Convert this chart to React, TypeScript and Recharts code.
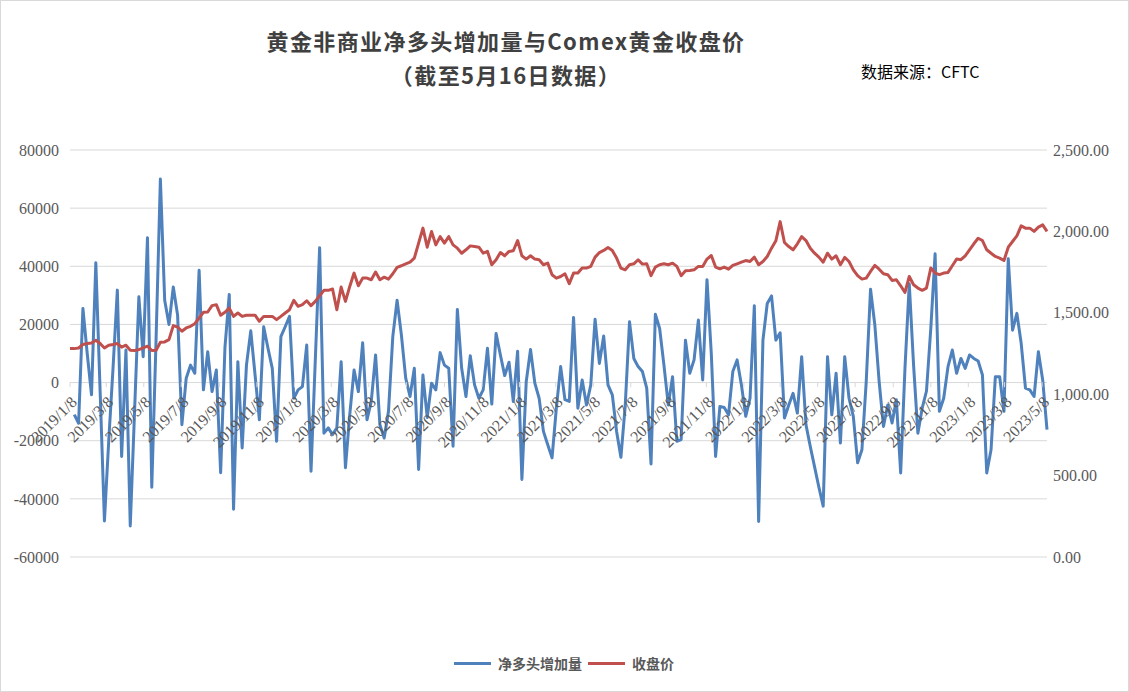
import React from 'react'
import { LineChart, Line, XAxis, YAxis, CartesianGrid } from 'recharts'

document.body.style.margin = '0'

// weekly CFTC report dates, first one 2019/1/8
const START = Date.UTC(2019, 0, 8)
const WEEK = 7 * 24 * 3600 * 1000

// 净多头增加量, from 2019/1/15 on (first week has no change)
const netLongChange = [
  -11000, -14000, 25500, 10000, -4200, 41200, -3000, -47600, -20000, 5000,
  31800, -25400, 11200, -49300, -10000, 29500, 8900, 49800, -36000, 15000,
  70000, 28300, 20000, 32900, 23200, -14500, 1500, 6000, 3200, 38600,
  -2500, 10600, -3100, 4300, -31000, 12000, 30300, -43600, 7200, -22500,
  6000, 17800, 2600, -12800, 19200, 11800, 4900, -20200, 15800, 19200,
  22800, -5400, -2500, -1400, 12900, -30500, 8000, 46400, -17400, -15600,
  -17900, -15600, 7200, -29300, -11000, 4300, -3100, 13700, -12800, -6500,
  9500, -14500, -19100, -9900, 15800, 28300, 16300, 1500, -4800, 4900,
  -29900, 2600, -12000, -200, -2500, 10300, 6000, 4900, -21900, 25100,
  4900, -4800, 9200, -800, -5400, -2500, 11800, -7400, 16900, 9500,
  2400, 7000, -6500, 10800, -33300, 300, 11400, -200, -5400, -16800,
  -21400, -25900, -8800, 5500, -5900, -6500, 22400, -8800, 900, -7700,
  -800, 21800, 6600, 16000, -800, -4200, -16800, -25700, -8000, 20900,
  8300, 5500, 3800, -1900, -28000, 23500, 18600, 6000, -7700, 2000,
  -20200, -19600, 14600, 3200, 7800, 21500, 900, 35400, 10000, -25400,
  -8200, -8600, -11100, 3800, 7800, -800, -11600, -5400, 26400, -47800,
  14600, 27200, 29800, 14600, 17100, -12200, -7700, -3700, -10500, 8900,
  -14500, -22000, -29000, -36000, -42500, 8900, -11100, 3200, -20800, 8900,
  -5400, -11600, -27600, -23100, 300, 32100, 19800, 300, -15100, -7700,
  -13900, -5900, -31100, 4900, 34000, 6000, -17400, -8800, -2900, 18600,
  44300, -9900, -5400, 5500, 11200, 3200, 8300, 4900, 9500, 8300,
  7400, 2600, -31100, -23100, 2000, 2000, -9900, 42600, 18000, 23800,
  13500, -1900, -2500, -4800, 10600, 900, -16200,
]

// Comex 黄金收盘价, from 2019/1/8 on
const closePrice = [
  1280, 1280, 1284, 1305, 1311, 1315, 1331, 1311, 1284, 1301,
  1305, 1311, 1289, 1301, 1270, 1268, 1274, 1284, 1295, 1268,
  1270, 1319, 1321, 1335, 1421, 1413, 1387, 1407, 1417, 1433,
  1468, 1503, 1505, 1544, 1550, 1485, 1503, 1529, 1478, 1499,
  1478, 1485, 1485, 1485, 1448, 1478, 1478, 1478, 1458, 1478,
  1499, 1519, 1576, 1540, 1550, 1574, 1544, 1570, 1605, 1638,
  1638, 1646, 1519, 1658, 1570, 1662, 1744, 1666, 1713, 1713,
  1703, 1750, 1703, 1719, 1707, 1740, 1779, 1789, 1801, 1811,
  1836, 1928, 2020, 1903, 1999, 1917, 1968, 1928, 1968, 1917,
  1897, 1866, 1887, 1911, 1907, 1903, 1866, 1877, 1795, 1826,
  1870, 1850, 1877, 1881, 1944, 1850, 1830, 1850, 1830, 1826,
  1795, 1805, 1734, 1713, 1723, 1740, 1679, 1744, 1744, 1775,
  1775, 1785, 1842, 1870, 1883, 1901, 1883, 1836, 1775, 1764,
  1795, 1801, 1826, 1799, 1801, 1728, 1781, 1795, 1801, 1795,
  1805, 1785, 1728, 1758, 1760, 1764, 1785, 1785, 1830, 1852,
  1781, 1770, 1781, 1768, 1791, 1801, 1811, 1821, 1815, 1842,
  1795, 1815, 1846, 1897, 1942, 2060, 1932, 1907, 1887, 1924,
  1968, 1944, 1897, 1866, 1842, 1811, 1866, 1830, 1850, 1795,
  1840, 1815, 1764, 1728, 1707, 1713, 1754, 1791, 1768, 1740,
  1734, 1699, 1703, 1666, 1625, 1723, 1672, 1652, 1638, 1652,
  1775, 1744, 1734, 1744, 1748, 1789, 1830, 1826, 1850, 1887,
  1924, 1958, 1944, 1887, 1866, 1846, 1836, 1821, 1903, 1938,
  1973, 2034, 2020, 2020, 2000, 2026, 2040, 2000,
]

const dateTicks = [
  '2019/1/8', '2019/3/8', '2019/5/8', '2019/7/8', '2019/9/8', '2019/11/8',
  '2020/1/8', '2020/3/8', '2020/5/8', '2020/7/8', '2020/9/8', '2020/11/8',
  '2021/1/8', '2021/3/8', '2021/5/8', '2021/7/8', '2021/9/8', '2021/11/8',
  '2022/1/8', '2022/3/8', '2022/5/8', '2022/7/8', '2022/9/8', '2022/11/8',
  '2023/1/8', '2023/3/8', '2023/5/8',
]
const leftTicks = [-60000, -40000, -20000, 0, 20000, 40000, 60000, 80000]
const rightTicks = [0, 500, 1000, 1500, 2000, 2500]

const toTime = (s: string) => {
  const [y, m, d] = s.split('/').map(Number)
  return Date.UTC(y, m - 1, d)
}

const data = closePrice.map((p, i) => ({
  t: START + i * WEEK,
  price: p,
  net: i === 0 ? null : netLongChange[i - 1],
}))

const W = 1129
const H = 692
const TOP = 150
const X_AXIS_H = 134
const PLOT_H = H - TOP - X_AXIS_H
const LEFT_MIN = -60000
const LEFT_MAX = 80000
// x axis crosses at 0 like the Excel original
const ZERO_SHIFT = (PLOT_H * (0 - LEFT_MIN)) / (LEFT_MAX - LEFT_MIN)

const AXIS_FONT = '"Liberation Serif", "Times New Roman", serif'
const CJK_FONT = '"Noto Sans CJK SC", "Noto Sans", sans-serif'
const BLUE = '#4F81BD'
const RED = '#C0504D'

const DateTick = (props: any) => {
  const { x, y, payload } = props
  const d = new Date(payload.value)
  const label = `${d.getUTCFullYear()}/${d.getUTCMonth() + 1}/${d.getUTCDate()}`
  const y0 = y - ZERO_SHIFT
  return (
    <g transform={`translate(${x},${y0})`}>
      <line x1={0} y1={0} x2={0} y2={5} stroke="#d9d9d9" />
      <text
        x={8}
        y={21}
        textAnchor="end"
        transform="rotate(-45, 8, 21)"
        fontFamily={AXIS_FONT}
        fontSize={16}
        fill="#595959"
      >
        {label}
      </text>
    </g>
  )
}

const titleLine = {
  position: 'absolute' as const,
  left: 0,
  width: 1010,
  textAlign: 'center' as const,
  fontFamily: CJK_FONT,
  fontWeight: 700,
  fontSize: 22,
  lineHeight: '24px',
  color: '#404040',
  letterSpacing: 1.4,
}

export default function App() {
  return (
    <div
      style={{
        position: 'relative',
        width: W,
        height: H,
        boxSizing: 'border-box',
        border: '1px solid #d9d9d9',
        background: '#fff',
        overflow: 'hidden',
      }}
    >
      <div style={{ ...titleLine, top: 27 }}>黄金非商业净多头增加量与Comex黄金收盘价</div>
      <div style={{ ...titleLine, top: 61 }}>（截至5月16日数据）</div>
      <div
        style={{
          position: 'absolute',
          left: 860,
          top: 60,
          fontFamily: CJK_FONT,
          fontSize: 16,
          lineHeight: '20px',
          color: '#000',
        }}
      >
        数据来源：CFTC
      </div>

      <div style={{ position: 'absolute', left: 0, top: 0 }}>
        <LineChart width={W - 2} height={H - 2} data={data} margin={{ top: TOP - 1, right: 0, left: 0, bottom: 0 }}>
          <CartesianGrid yAxisId="left" horizontal vertical={false} stroke="#d9d9d9" />
          <XAxis
            dataKey="t"
            type="number"
            domain={[START, START + (closePrice.length - 1) * WEEK]}
            ticks={dateTicks.map(toTime)}
            interval={0}
            tick={<DateTick />}
            tickLine={false}
            axisLine={false}
            tickSize={0}
            tickMargin={0}
            height={X_AXIS_H}
          />
          <YAxis
            yAxisId="left"
            domain={[LEFT_MIN, LEFT_MAX]}
            ticks={leftTicks}
            interval={0}
            width={69}
            axisLine={false}
            tickLine={false}
            tickSize={0}
            tickMargin={11}
            tick={{ fontFamily: AXIS_FONT, fontSize: 16, fill: '#595959' }}
          />
          <YAxis
            yAxisId="right"
            orientation="right"
            domain={[0, 2500]}
            ticks={rightTicks}
            interval={0}
            width={81}
            axisLine={false}
            tickLine={false}
            tickSize={0}
            tickMargin={6}
            tickFormatter={(v: number) => v.toLocaleString('en-US', { minimumFractionDigits: 2, maximumFractionDigits: 2 })}
            tick={{ fontFamily: AXIS_FONT, fontSize: 16, fill: '#595959' }}
          />
          <Line
            yAxisId="left"
            type="linear"
            dataKey="net"
            name="净多头增加量"
            stroke={BLUE}
            strokeWidth={3}
            strokeLinejoin="round"
            dot={false}
            connectNulls
            isAnimationActive={false}
          />
          <Line
            yAxisId="right"
            type="linear"
            dataKey="price"
            name="收盘价"
            stroke={RED}
            strokeWidth={3}
            strokeLinejoin="round"
            dot={false}
            isAnimationActive={false}
          />
        </LineChart>
      </div>

      <div
        style={{
          position: 'absolute',
          top: 652,
          left: 453,
          display: 'flex',
          alignItems: 'center',
          fontFamily: CJK_FONT,
          fontWeight: 700,
          fontSize: 14,
          color: '#595959',
        }}
      >
        <span style={{ display: 'inline-block', width: 37, height: 3, background: BLUE, marginRight: 7 }} />
        <span>净多头增加量</span>
        <span style={{ display: 'inline-block', width: 37, height: 3, background: RED, marginLeft: 6, marginRight: 7 }} />
        <span>收盘价</span>
      </div>
    </div>
  )
}
